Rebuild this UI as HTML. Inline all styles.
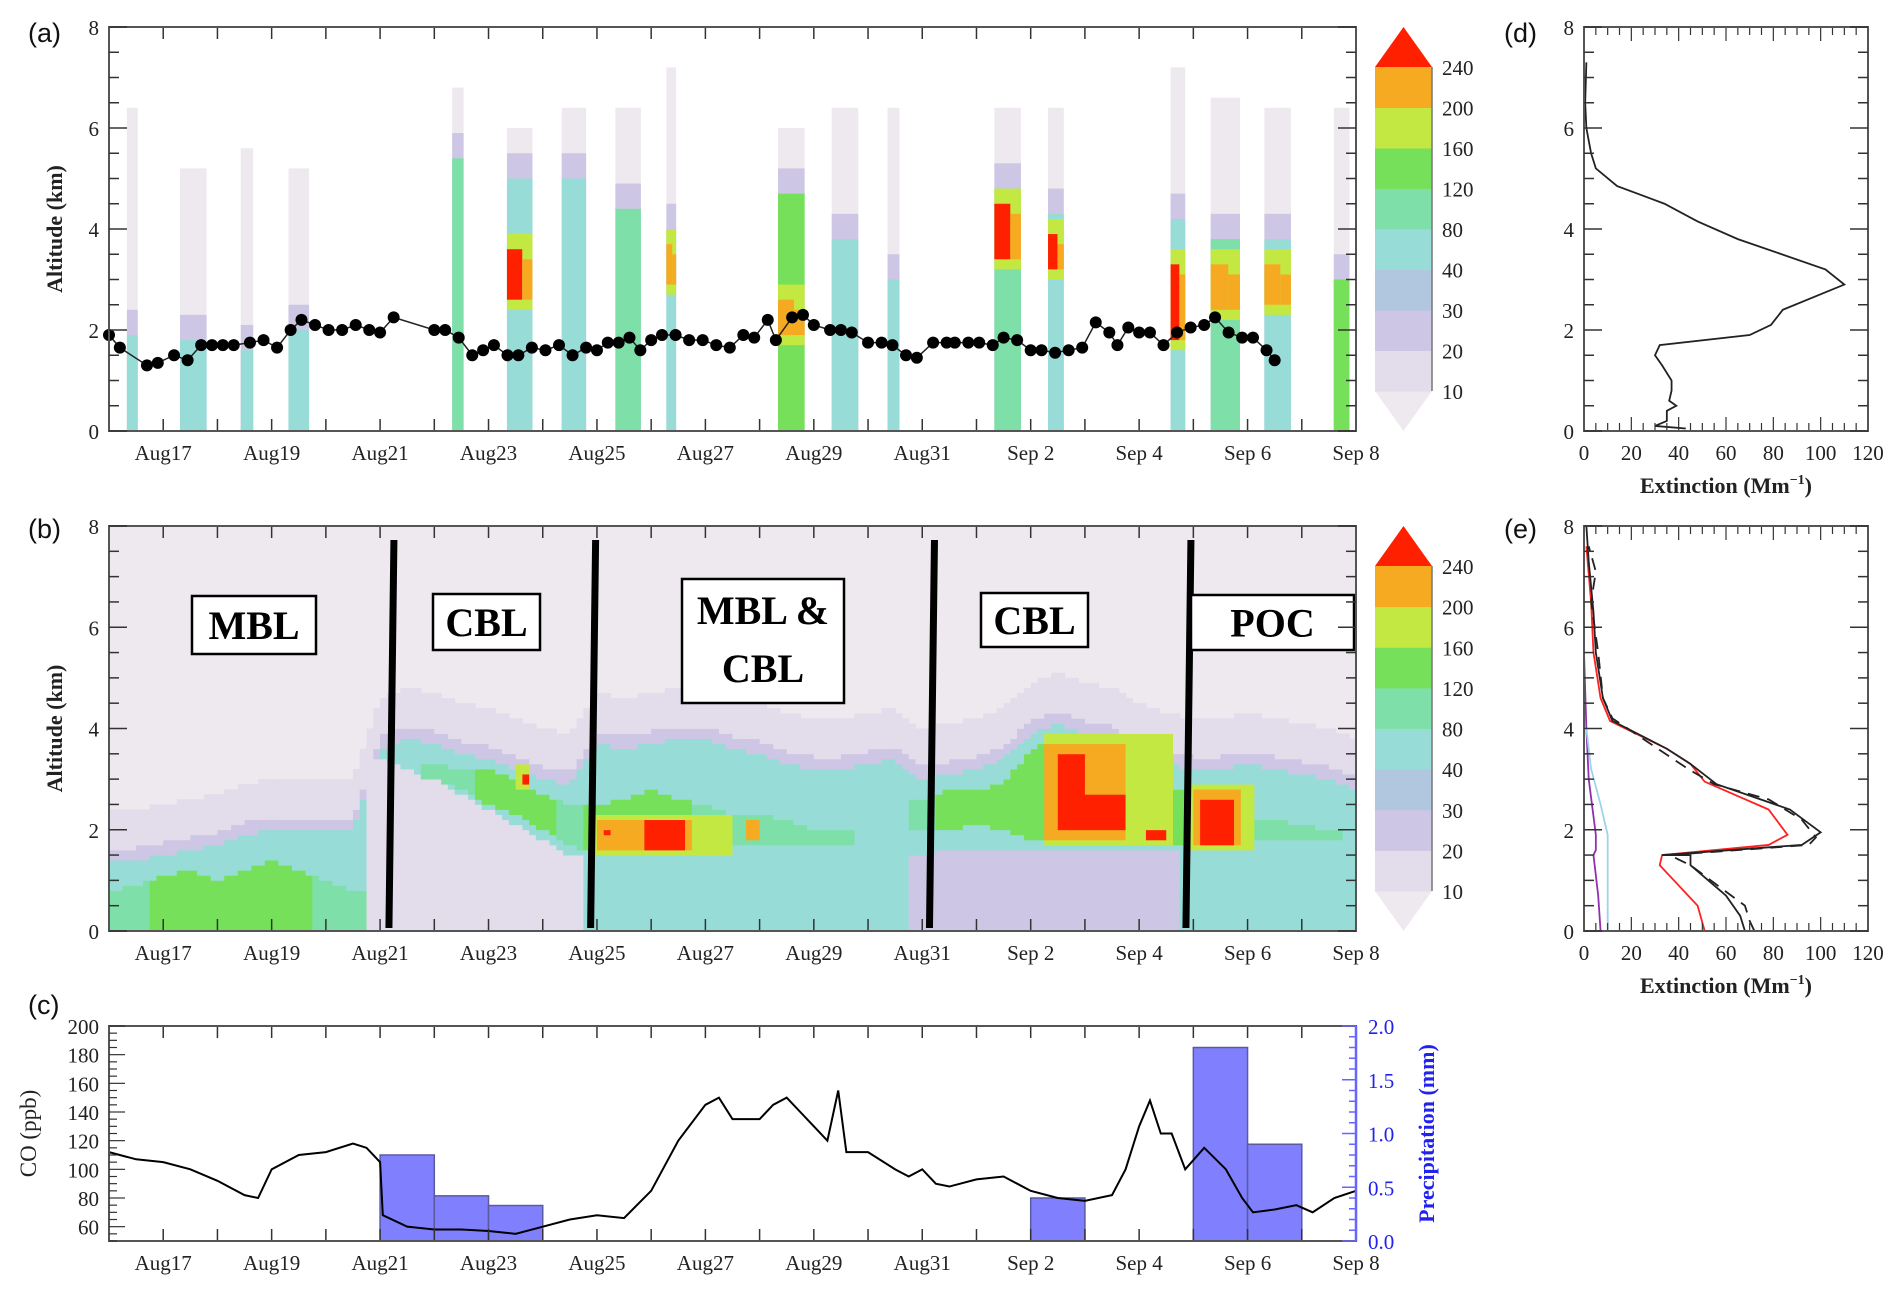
<!DOCTYPE html>
<html><head><meta charset="utf-8">
<style>
html,body{margin:0;padding:0;background:#fff;}
svg{display:block;}
text{font-family:"Liberation Serif",serif;fill:#222;}
.pl{font-family:"Liberation Sans",sans-serif;font-size:27px;fill:#111;}
.tk{font-size:21px;}
.tt{font-size:22px;font-weight:bold;}
.box{font-size:40px;font-weight:bold;fill:#000;}
</style></head>
<body>
<svg id="fig" width="1904" height="1294" viewBox="0 0 1904 1294" xmlns="http://www.w3.org/2000/svg">
<g id="gA"></g>
<g id="gB"></g>
<g id="gC"></g>
<g id="gD"></g>
<g id="gE"></g>
<g id="gL">
<text class="pl" x="28" y="42">(a)</text>
<text class="pl" x="28" y="538">(b)</text>
<text class="pl" x="28" y="1014">(c)</text>
<text class="pl" x="1504" y="42">(d)</text>
<text class="pl" x="1504" y="538">(e)</text>
</g>
</svg>
<script>
// ---------- data ----------
const levelColors = ["#ede9ef","#e2dceb","#cdc6e4","#b1c7df","#98dcd8","#7ee0a8","#76e05a","#c4e842","#f5aa22","#ff2000"];
const cbLabels = ["10","20","30","40","80","120","160","200","240"];
const dayTicks = [17,19,21,23,25,27,29,31,33,35,37,39];
const dayTickLabels = ["Aug17","Aug19","Aug21","Aug23","Aug25","Aug27","Aug29","Aug31","Sep 2","Sep 4","Sep 6","Sep 8"];
// panel a: lidar columns
const colStart = [16.33,17.31,18.43,19.31,22.33,23.34,24.35,25.34,26.28,28.34,29.33,30.36,32.33,33.32,35.58,36.32,37.31,38.59];
const colEnd   = [16.53,17.80,18.66,19.69,22.54,23.81,24.80,25.81,26.46,28.83,29.82,30.58,32.82,33.61,35.85,36.86,37.80,38.88];
const colTop   = [6.4,5.2,5.6,5.2,6.8,6.0,6.4,6.4,7.2,6.0,6.4,6.4,6.4,6.4,7.2,6.6,6.4,6.4];
const colCore  = [1.9,1.8,1.6,2.0,5.4,5.0,5.0,4.4,4.0,4.7,3.8,3.0,4.8,4.3,4.2,3.8,3.8,3.0];
const colLev   = [4,4,4,4,5,4,4,5,4,6,4,4,5,4,4,5,4,6];
const hotLo    = [0,0,0,0,0,2.6,0,0,2.9,1.9,0,0,3.4,3.2,1.8,2.4,2.5,0];
const hotHi    = [0,0,0,0,0,3.6,0,0,3.7,2.6,0,0,4.5,3.9,3.3,3.3,3.3,0];
const hotLev   = [0,0,0,0,0,9,0,0,8,8,0,0,9,9,9,8,8,0];
const blTime = [16.0,16.2,16.7,16.9,17.2,17.45,17.7,17.9,18.1,18.3,18.6,18.85,19.1,19.35,19.55,19.8,20.05,20.3,20.55,20.8,21.0,21.25,22.0,22.2,22.45,22.7,22.9,23.1,23.35,23.55,23.8,24.05,24.3,24.55,24.8,25.0,25.2,25.4,25.6,25.8,26.0,26.2,26.45,26.7,26.95,27.2,27.45,27.7,27.9,28.15,28.3,28.6,28.8,29.0,29.3,29.5,29.7,30.0,30.25,30.45,30.7,30.9,31.2,31.45,31.6,31.85,32.05,32.3,32.5,32.75,33.0,33.2,33.45,33.7,33.95,34.2,34.45,34.6,34.8,35.0,35.2,35.45,35.7,35.95,36.2,36.4,36.65,36.9,37.1,37.35,37.5];
const blAlt  = [1.9,1.65,1.3,1.35,1.5,1.4,1.7,1.7,1.7,1.7,1.75,1.8,1.65,2.0,2.2,2.1,2.0,2.0,2.1,2.0,1.95,2.25,2.0,2.0,1.85,1.5,1.6,1.7,1.5,1.5,1.65,1.6,1.7,1.5,1.65,1.6,1.75,1.75,1.85,1.6,1.8,1.9,1.9,1.8,1.8,1.7,1.65,1.9,1.85,2.2,1.8,2.25,2.3,2.1,2.0,2.0,1.95,1.75,1.75,1.7,1.5,1.45,1.75,1.75,1.75,1.75,1.75,1.7,1.85,1.8,1.6,1.6,1.55,1.6,1.65,2.15,1.95,1.7,2.05,1.95,1.95,1.7,1.95,2.05,2.1,2.25,1.95,1.85,1.85,1.6,1.4];
// panel b: half-day samples starting Aug16, step 0.5 day
const bLo = [0,0,0,0,0,0,0,0,0,0,3.4,3.2,3.0,2.7,2.4,2.1,1.8,1.5,0,0,0,0,0,0,0,0,0,0,0,0,1.5,1.6,1.6,1.6,1.6,1.6,1.6,1.6,1.6,1.6,0,0,0,0,0,0,0];
const bHi = [1.4,1.4,1.5,1.6,1.7,1.9,2.0,2.0,2.0,2.0,3.6,3.8,3.7,3.5,3.4,3.2,3.0,2.9,3.7,3.6,3.7,3.8,3.8,3.6,3.5,3.3,3.2,3.2,3.3,3.4,3.0,3.1,3.2,3.4,3.9,4.1,3.9,3.8,3.5,3.3,3.2,3.2,3.3,3.2,3.1,3.0,2.8];
const gLo = [0,0,0,0,0,0,0,0,0,0,0,0,3.0,2.8,2.5,2.3,2.0,1.7,1.5,1.5,1.5,1.6,1.7,1.7,1.7,1.7,1.7,1.7,0,0,2.0,2.0,2.1,2.0,1.8,1.8,1.8,1.8,1.7,1.7,1.7,1.7,1.8,1.8,1.8,1.8,0];
const gHi = [0.8,0.9,1.1,1.2,1.0,1.2,1.4,1.2,1.0,0.8,0,0,3.3,3.2,3.2,3.0,2.7,2.5,2.5,2.6,2.8,2.6,2.5,2.3,2.3,2.2,2.0,2.0,0,0,2.6,2.8,2.8,2.9,3.6,3.9,3.5,3.3,3.2,2.8,2.8,2.6,2.2,2.2,2.1,2.0,0];
const gLev = [5,5,6,6,6,6,6,6,5,5,5,5,5,5,6,6,6,5,6,6,6,6,5,5,5,5,5,5,5,5,5,6,6,6,6,6,6,5,6,6,6,5,5,5,5,5,5];
const blobStart = [23.5,24.9,25.0,27.7,33.2,33.3,35.9,23.6,25.9,25.1,33.5,34.0,35.1,36.0,36.1];
const blobEnd   = [23.8,27.5,26.8,28.0,35.6,34.8,37.1,23.7,26.6,25.3,34.0,34.7,35.5,36.9,36.8];
const blobLo    = [2.8,1.5,1.6,1.8,1.7,1.8,1.6,2.9,1.6,1.9,2.0,2.0,1.8,1.7,1.7];
const blobHi    = [3.3,2.3,2.2,2.2,3.9,3.7,2.9,3.1,2.2,2.0,3.5,2.7,2.0,2.8,2.6];
const blobLev   = [7,7,8,8,7,8,7,9,9,9,9,9,9,8,9];
const boxText = ["MBL","CBL","MBL &|CBL","CBL","POC"];
const sepDays = [21.2,24.92,31.17,35.9];
// panel c
const coTime = [16,16.5,17,17.5,18,18.5,18.75,19,19.5,20,20.5,20.75,21,21.05,21.5,22,22.5,23,23.5,24,24.5,25,25.5,26,26.5,27,27.25,27.5,28,28.25,28.5,28.75,29,29.25,29.45,29.6,30,30.5,30.75,31,31.25,31.5,32,32.5,33,33.5,34,34.5,34.75,35,35.2,35.4,35.6,35.85,36.2,36.6,36.9,37.1,37.5,37.9,38.2,38.6,39];
const coVal  = [112,107,105,100,92,82,80,100,110,112,118,115,105,68,60,58,58,57,55,60,65,68,66,85,120,145,150,135,135,145,150,140,130,120,155,112,112,100,95,100,90,88,93,95,85,80,78,82,100,130,148,125,125,100,115,100,80,70,72,75,70,80,85];
const prStart = [21,22,23,33,36,37];
const prEnd   = [22,23,24,34,37,38];
const prVal   = [0.8,0.42,0.33,0.4,1.8,0.9];
const coTicks = [60,80,100,120,140,160,180,200];
const prTicks = [0,0.5,1.0,1.5,2.0];
// panels d, e
const dExt = [43,30,35,35,39,36,37,37,33,30,32,70,79,84,110,102,65,48,34,14,5,3,1,0.5,1];
const dAlt = [0.05,0.1,0.2,0.4,0.5,0.6,0.8,1.0,1.3,1.5,1.7,1.9,2.1,2.4,2.9,3.2,3.8,4.15,4.5,4.85,5.2,5.5,6.0,6.5,7.3];
const eBlackExt = [68,66,60,45,45,33,92,100,87,56,45,35,12,8,5,4,2,1];
const eBlackAlt = [0,0.3,0.7,1.3,1.5,1.5,1.7,1.95,2.4,2.9,3.3,3.6,4.15,4.6,5.5,6.3,7.3,8];
const eDashExt = [72,70,68,55,45,36,95,98,92,78,55,44,12,8,6,3,5,2];
const eDashAlt = [0,0.2,0.5,0.95,1.3,1.5,1.7,1.85,2.2,2.6,2.9,3.2,4.2,4.6,5.5,6.5,7.1,7.6];
const eRedExt = [51,48,40,32,33,78,86,78,51,45,35,11,7,4,3,1];
const eRedAlt = [0,0.5,0.9,1.3,1.5,1.7,1.9,2.4,2.95,3.3,3.6,4.15,4.6,5.5,6.5,7.6];
const eBlueExt = [10,10,10,7,3,1];
const eBlueAlt = [0,1.5,1.9,2.5,3.2,4];
const ePurpExt = [7,6,4,5,5,2,1,0];
const ePurpAlt = [0,0.7,1.5,1.6,1.9,3,4,5.5];
const extTicks = [0,20,40,60,80,100,120];

// ---------- helpers ----------
const NS="http://www.w3.org/2000/svg";
function mk(tag,attrs,parent){const e=document.createElementNS(NS,tag);for(const k in attrs)e.setAttribute(k,attrs[k]);parent.appendChild(e);return e;}
const L=109,R=1356,PW=R-L;
const xD=d=>L+(d-16)/23*PW;
function yA(z,top,bot){return bot-(z/8)*(bot-top);}
const A={top:27,bot:431},B={top:526,bot:931},C={top:1026,bot:1241};
const DL=1584,DR=1868;
const xE=v=>DL+v/120*(DR-DL);

function frameTime(g,top,bot){
  for(let d=16;d<=39;d++){
    const x=xD(d);
    let t=mk('line',{x1:x,x2:x,y1:bot,y2:bot-12,stroke:'#333','stroke-width':1.5},g);
    
    t=mk('line',{x1:x,x2:x,y1:top,y2:top+12,stroke:'#333','stroke-width':1.5},g);
    
  }
  dayTicks.forEach((d,i)=>{
    const t=mk('text',{x:xD(d),y:bot+29,'text-anchor':'middle',class:'tk'},g);t.textContent=dayTickLabels[i];
    
  });
  const f=mk('rect',{x:L,y:top,width:PW,height:bot-top,fill:'none',stroke:'#555','stroke-width':2},g);
  
}
function altAxis(g,top,bot,left,right,title){
  for(let k=0;k<=16;k++){
    const z=k*0.5,y=yA(z,top,bot),len=(k%4==0)?18:10;
    let t=mk('line',{x1:left,x2:left+len,y1:y,y2:y,stroke:'#333','stroke-width':1.5},g);
    
    t=mk('line',{x1:right,x2:right-len,y1:y,y2:y,stroke:'#333','stroke-width':1.5},g);
    
    if(k%4==0){const tx=mk('text',{x:left-10,y:y+8,'text-anchor':'end',class:'tk'},g);tx.textContent=String(z);
      }
  }
  if(title){const cy=(top+bot)/2;const t=mk('text',{x:62,y:cy,'text-anchor':'middle',class:'tt',transform:`rotate(-90 62 ${cy})`},g);t.textContent=title;
    }
}
function colorbar(g,top,bot){
  const x0=1375,x1=1432,tri=40,bandH=(bot-top-2*tri)/8;
  let t=mk('polygon',{points:`${x0},${top+tri} ${x1},${top+tri} ${(x0+x1)/2},${top}`,fill:levelColors[9]},g);
  
  t=mk('polygon',{points:`${x0},${bot-tri} ${x1},${bot-tri} ${(x0+x1)/2},${bot}`,fill:levelColors[0]},g);
  
  for(let i=0;i<8;i++){
    const y=bot-tri-(i+1)*bandH;
    const r=mk('rect',{x:x0,y:y,width:x1-x0,height:bandH+0.5,fill:levelColors[i+1]},g);
    
  }
  const ln=mk('line',{x1:x1,x2:x1,y1:top+tri,y2:bot-tri,stroke:'#777','stroke-width':1.5},g);
  
  cbLabels.forEach((s,i)=>{const y=bot-tri-i*bandH;const tx=mk('text',{x:1442,y:y+8,class:'tk'},g);tx.textContent=s;
    });
}

// ---------- panel a ----------
(function(){
  const g=document.getElementById('gA');
  const y=z=>yA(z,A.top,A.bot);
  colStart.forEach((s,i)=>{
    const x0=xD(s),w=xD(colEnd[i])-x0;
    let r=mk('rect',{x:x0,y:y(colTop[i]),width:w,height:y(0)-y(colTop[i]),fill:levelColors[0]},g);
    
    r=mk('rect',{x:x0,y:y(colCore[i]+0.5),width:w,height:y(0)-y(colCore[i]+0.5),fill:levelColors[2]},g);
    
    r=mk('rect',{x:x0,y:y(colCore[i]),width:w,height:y(0)-y(colCore[i]),fill:levelColors[colLev[i]]},g);
    
    if(hotLev[i]>0){
      r=mk('rect',{x:x0,y:y(hotHi[i]+0.3),width:w,height:y(hotLo[i]-0.2)-y(hotHi[i]+0.3),fill:levelColors[7]},g);
      
      r=mk('rect',{x:x0,y:y(hotHi[i]),width:w*0.6,height:y(hotLo[i])-y(hotHi[i]),fill:levelColors[hotLev[i]]},g);
      
      r=mk('rect',{x:x0+w*0.6,y:y(hotHi[i]-0.2),width:w*0.4,height:y(hotLo[i])-y(hotHi[i]-0.2),fill:levelColors[8]},g);
      
    }
  });
  const pts=blTime.map((t,i)=>xD(t)+','+y(blAlt[i])).join(' ');
  const pl=mk('polyline',{points:pts,fill:'none',stroke:'#222','stroke-width':1.5},g);
  
  blTime.forEach((t,i)=>{const c=mk('circle',{cx:xD(t),cy:y(blAlt[i]),r:6,fill:'#000'},g);
    });
  frameTime(g,A.top,A.bot);
  altAxis(g,A.top,A.bot,L,R,'Altitude (km)');
  colorbar(g,A.top,A.bot);
})();

// ---------- panel b ----------
(function(){
  const g=document.getElementById('gB');
  const y=z=>yA(z,B.top,B.bot);
  const dt=0.125,dz=0.1;
  function samp(arr,t){const f=(t-16)/0.5;const i=Math.floor(f),j=Math.min(i+1,arr.length-1),w=f-i;
    const a=arr[Math.max(0,Math.min(i,arr.length-1))],b=arr[j];
    if((a===0)!==(b===0))return w<0.5?a:b; return a+(b-a)*w;}
  function level(t,z){
    for(let k=blobStart.length-1;k>=0;k--){if(t>=blobStart[k]&&t<blobEnd[k]&&z>=blobLo[k]&&z<blobHi[k])return blobLev[k];}
    const lo=samp(bLo,t),hi=samp(bHi,t),gl=samp(gLo,t),gh=samp(gHi,t);
    const gi=Math.max(0,Math.min(gLev.length-1,Math.round((t-16)/0.5)));
    if(gh>0&&z>=gl&&z<gh)return gLev[gi];
    if(z<lo)return t<28?1:2;
    if(z<hi)return 4;
    if(z<hi+0.25)return 2;
    if(z<hi+1.0)return 1;
    return 0;
  }
  const bg=mk('rect',{x:L,y:B.top,width:PW,height:B.bot-B.top,fill:levelColors[0]},g);
  
  for(let t=16;t<39-1e-6;t+=dt){
    const tc=t+dt/2;let z0=0,cur=level(tc,dz/2);
    for(let z=dz;z<=8+1e-6;z+=dz){
      const lv=z<8-1e-6?level(tc,z+dz/2):-1;
      if(lv!==cur){
        if(cur!==0){const r=mk('rect',{x:xD(t),y:y(z),width:xD(t+dt)-xD(t)+0.6,height:y(z0)-y(z)+0.4,fill:levelColors[cur]},g);
          }
        z0=z;cur=lv;
      }
    }
  }
  sepDays.forEach(d=>{const l=mk('line',{x1:xD(d)+3,x2:xD(d)-2,y1:540,y2:928,stroke:'#000','stroke-width':7},g);
    });
  const bx=[[192,596,124,58],[433,594,107,56],[682,579,162,124],[981,593,107,54],[1191,595,163,55]];
  boxText.forEach((s,i)=>{const b=bx[i];
    const r=mk('rect',{x:b[0],y:b[1],width:b[2],height:b[3],fill:'#fff',stroke:'#000','stroke-width':2.5},g);
    
    const lines=s.split('|');
    lines.forEach((ln,k)=>{const tx=mk('text',{x:b[0]+b[2]/2,y:lines.length>1?b[1]+45+k*58:b[1]+b[3]/2+14,'text-anchor':'middle',class:'box'},g);tx.textContent=ln;
      });
  });
  frameTime(g,B.top,B.bot);
  altAxis(g,B.top,B.bot,L,R,'Altitude (km)');
  colorbar(g,B.top,B.bot);
})();

// ---------- panel c ----------
(function(){
  const g=document.getElementById('gC');
  const yC=v=>C.bot-(v-50)/150*(C.bot-C.top);
  const yP=v=>C.bot-v/2*(C.bot-C.top);
  prStart.forEach((s,i)=>{const r=mk('rect',{x:xD(s),y:yP(prVal[i]),width:xD(prEnd[i])-xD(s),height:C.bot-yP(prVal[i]),fill:'#8080ff',stroke:'#5a5aa0','stroke-width':1.5},g);
    });
  const pl=mk('polyline',{points:coTime.map((t,i)=>xD(t)+','+yC(coVal[i])).join(' '),fill:'none',stroke:'#000','stroke-width':2},g);
  
  frameTime(g,C.top,C.bot);
  for(let v=50;v<=200;v+=5){const y=yC(v),len=v%20==0?16:8;
    const t=mk('line',{x1:L,x2:L+len,y1:y,y2:y,stroke:'#333','stroke-width':1.2},g);}
  coTicks.forEach(v=>{const tx=mk('text',{x:L-10,y:yC(v)+8,'text-anchor':'end',class:'tk'},g);tx.textContent=String(v);
    });
  const ax=mk('line',{x1:R,x2:R,y1:C.top,y2:C.bot,stroke:'#6666ff','stroke-width':2.5},g);
  for(let v=0;v<=2.001;v+=0.1){const y=yP(v),len=(Math.round(v*10)%5==0)?14:7;
    const t=mk('line',{x1:R,x2:R-len,y1:y,y2:y,stroke:'#6666ff','stroke-width':1.5},g);}
  prTicks.forEach(v=>{const tx=mk('text',{x:R+12,y:yP(v)+8,class:'tk',fill:'#2222ee',style:'fill:#2222ee'},g);tx.textContent=v.toFixed(1);
    });
  const cy=(C.top+C.bot)/2;
  let t=mk('text',{x:36,y:cy,'text-anchor':'middle',class:'tt',style:'font-weight:normal;font-size:23px',transform:`rotate(-90 36 ${cy})`},g);t.textContent='CO (ppb)';
  
  t=mk('text',{x:1434,y:cy,'text-anchor':'middle',class:'tt',style:'fill:#2222ee',transform:`rotate(-90 1434 ${cy})`},g);t.textContent='Precipitation (mm)';
  
})();

// ---------- panels d, e ----------
function profFrame(g,top,bot){
  for(let v=0;v<=120;v+=5){const x=xE(v),len=v%20==0?14:8;
    let t=mk('line',{x1:x,x2:x,y1:bot,y2:bot-len,stroke:'#333','stroke-width':1.2},g);
    t=mk('line',{x1:x,x2:x,y1:top,y2:top+len,stroke:'#333','stroke-width':1.2},g);}
  extTicks.forEach(v=>{const tx=mk('text',{x:xE(v),y:bot+29,'text-anchor':'middle',class:'tk'},g);tx.textContent=String(v);
    });
  const f=mk('rect',{x:DL,y:top,width:DR-DL,height:bot-top,fill:'none',stroke:'#555','stroke-width':2},g);
  
  altAxis(g,top,bot,DL,DR,null);
  const t=mk('text',{x:(DL+DR)/2,y:bot+62,'text-anchor':'middle',class:'tt',style:'font-size:22px'},g);
  t.innerHTML='Extinction (Mm<tspan dy="-9" font-size="14">−1</tspan><tspan dy="9">)</tspan>';
  
}
function prof(g,ext,alt,top,bot,color,dash,name){
  const p=mk('polyline',{points:ext.map((v,i)=>xE(v)+','+yA(alt[i],top,bot)).join(' '),fill:'none',stroke:color,'stroke-width':1.8},g);
  if(dash)p.setAttribute('stroke-dasharray',dash);
  
}
(function(){
  const g=document.getElementById('gD');
  prof(g,dExt,dAlt,A.top,A.bot,'#222',null,'extinction-profile');
  profFrame(g,A.top,A.bot);
})();
(function(){
  const g=document.getElementById('gE');
  prof(g,ePurpExt,ePurpAlt,B.top,B.bot,'#9030b0',null,'profile-purple');
  prof(g,eBlueExt,eBlueAlt,B.top,B.bot,'#9ed4e8',null,'profile-lightblue');
  prof(g,eRedExt,eRedAlt,B.top,B.bot,'#ff2020',null,'profile-red');
  prof(g,eDashExt,eDashAlt,B.top,B.bot,'#222','12,8','profile-dashed');
  prof(g,eBlackExt,eBlackAlt,B.top,B.bot,'#222',null,'profile-black');
  profFrame(g,B.top,B.bot);
})();
</script>
</body></html>
